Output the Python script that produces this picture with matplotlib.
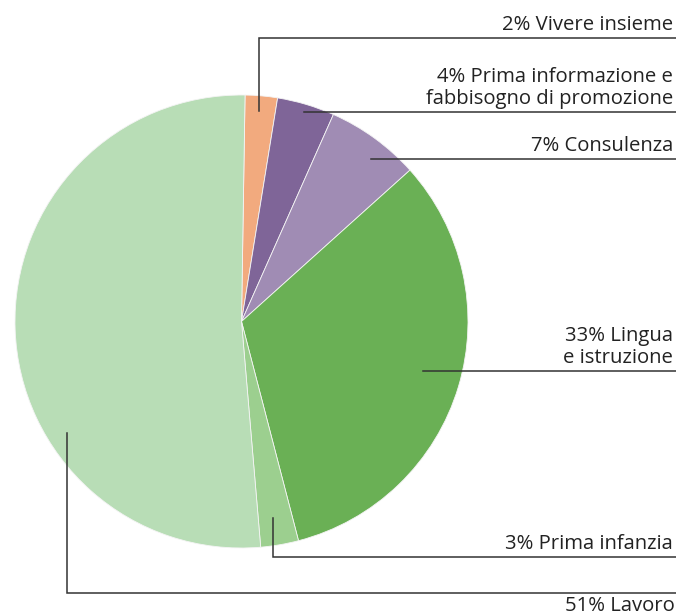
import numpy as np
import matplotlib
matplotlib.use("Agg")
import matplotlib.pyplot as plt

# shares in percent, clockwise from the top
labels = ["2% Vivere insieme",
          "4% Prima informazione e\nfabbisogno di promozione",
          "7% Consulenza",
          "33% Lingua\ne istruzione",
          "3% Prima infanzia",
          "51% Lavoro"]
values = [2.3, 4.1, 6.7, 32.6, 2.7, 51.6]
colors = ["#F2AA7E", "#7F6598", "#A08CB4", "#6AB055", "#9CCF8F", "#B8DDB6"]

# leader lines in pixel coords: (anchor x, anchor y, line y), text above/below line
leaders = [(259, 111, 38, "above"),
           (304, 112, 112, "above"),
           (371, 159, 159, "above"),
           (423, 371, 371, "above"),
           (273, 518, 557, "above"),
           (67, 433, 593, "below")]

plt.rcParams['font.family'] = ['Open Sans', 'DejaVu Sans']

W, H = 676, 616
fig = plt.figure(figsize=(W / 100, H / 100), dpi=100)
ax = fig.add_axes([0, 0, 1, 1])

# y axis is flipped below, so counterclock=True draws clockwise on screen
ax.pie(values, colors=colors, center=(241.5, 321.5), radius=226.5,
       startangle=-89.1, counterclock=True,
       wedgeprops=dict(edgecolor="#f4f4f4", linewidth=0.6))

ax.set_xlim(0, W)
ax.set_ylim(H, 0)
ax.set_aspect("auto")
ax.axis("off")

fs = 14.6
x_right = 676
for (x0, y0, yl, pos), lab in zip(leaders, labels):
    ax.plot([x0, x0, x_right], [y0, yl, yl], color="#333333", lw=1.1,
            solid_joinstyle="miter")
    if pos == "above":
        ax.text(673, yl - 3, lab, ha="right", va="bottom", fontsize=fs,
                color="#222222", linespacing=1.12, multialignment="right")
    else:
        ax.text(675, yl + 3, lab, ha="right", va="top", fontsize=fs,
                color="#222222")

fig.savefig("out.png", dpi=100)
